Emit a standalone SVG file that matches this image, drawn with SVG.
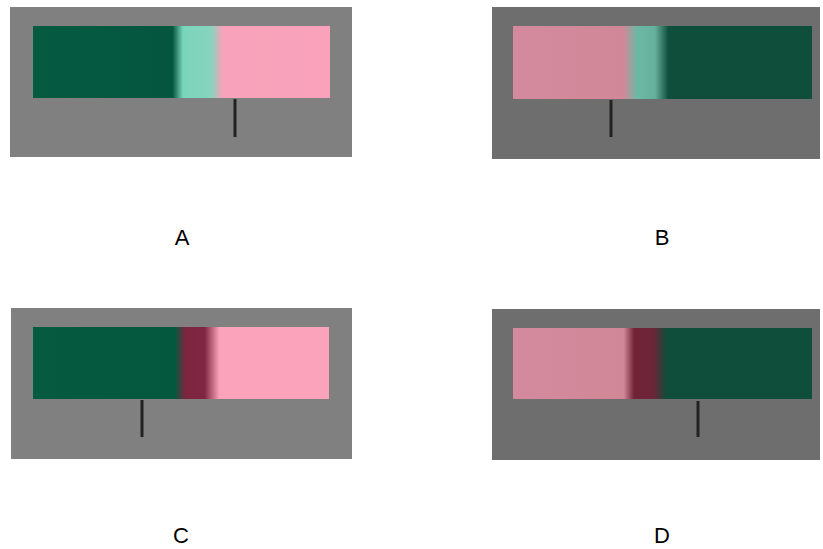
<svg xmlns="http://www.w3.org/2000/svg" width="823" height="549" viewBox="0 0 823 549">
<defs>
<linearGradient id="gA" x1="0" y1="0" x2="1" y2="0">
<stop offset="0" stop-color="#065a40"/><stop offset="0.47" stop-color="#04573e"/><stop offset="0.505" stop-color="#7ad6bb"/><stop offset="0.6" stop-color="#88d3bd"/><stop offset="0.64" stop-color="#f8a3bb"/><stop offset="1" stop-color="#faa2bb"/>
</linearGradient>
<linearGradient id="gB" x1="0" y1="0" x2="1" y2="0">
<stop offset="0" stop-color="#d38a9e"/><stop offset="0.37" stop-color="#d08898"/><stop offset="0.415" stop-color="#6db8a5"/><stop offset="0.475" stop-color="#66b09c"/><stop offset="0.52" stop-color="#0e4e3b"/><stop offset="1" stop-color="#0e4e3b"/>
</linearGradient>
<linearGradient id="gC" x1="0" y1="0" x2="1" y2="0">
<stop offset="0" stop-color="#055a3f"/><stop offset="0.48" stop-color="#04583e"/><stop offset="0.515" stop-color="#7d2540"/><stop offset="0.58" stop-color="#7f2642"/><stop offset="0.63" stop-color="#fba3ba"/><stop offset="1" stop-color="#fba3ba"/>
</linearGradient>
<linearGradient id="gD" x1="0" y1="0" x2="1" y2="0">
<stop offset="0" stop-color="#d38a9e"/><stop offset="0.37" stop-color="#d08898"/><stop offset="0.405" stop-color="#712338"/><stop offset="0.47" stop-color="#6c2537"/><stop offset="0.515" stop-color="#0e4e3b"/><stop offset="1" stop-color="#0e4e3b"/>
</linearGradient>
</defs>
<style>
.tick{stroke:#222;stroke-width:3}
.lbl{font-family:"Liberation Sans",Arial,sans-serif;font-size:22px;fill:#000;text-anchor:middle}
</style>
<rect width="823" height="549" fill="#fff"/>
<g id="panelA">
<rect x="10" y="7" width="342" height="150" fill="#808080"/>
<rect x="33" y="26" width="297" height="72" fill="url(#gA)"/>
<line class="tick" x1="235" y1="99" x2="235" y2="137"/>
<text class="lbl" x="182" y="245">A</text>
</g>
<g id="panelB">
<rect x="492" y="7" width="328" height="152" fill="#6e6e6e"/>
<rect x="513" y="26" width="299" height="73" fill="url(#gB)"/>
<line class="tick" x1="611" y1="100" x2="611" y2="137"/>
<text class="lbl" x="662" y="245">B</text>
</g>
<g id="panelC">
<rect x="11" y="308" width="341" height="151" fill="#808080"/>
<rect x="33" y="327" width="296" height="72" fill="url(#gC)"/>
<line class="tick" x1="142" y1="400" x2="142" y2="437"/>
<text class="lbl" x="181" y="543">C</text>
</g>
<g id="panelD">
<rect x="492" y="309" width="328" height="151" fill="#6e6e6e"/>
<rect x="513" y="328" width="299" height="71" fill="url(#gD)"/>
<line class="tick" x1="698" y1="401" x2="698" y2="437"/>
<text class="lbl" x="662" y="543">D</text>
</g>
<g id="connectors"/>
</svg>
